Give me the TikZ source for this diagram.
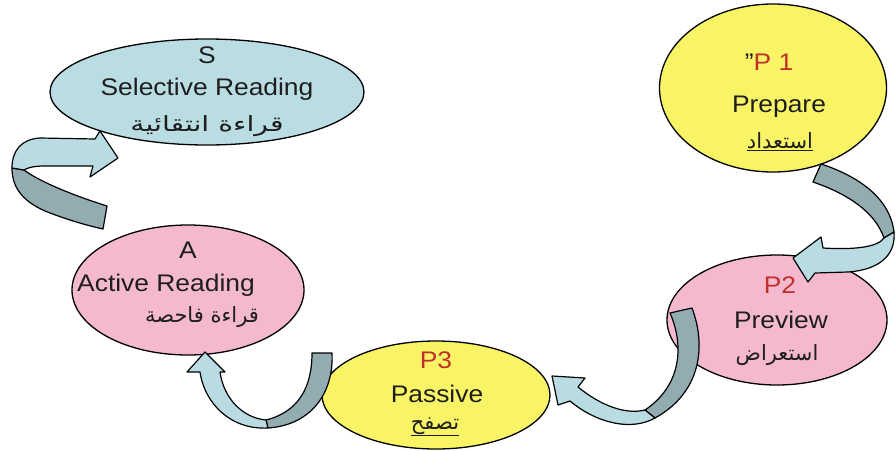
\documentclass[tikz,border=0pt]{standalone}
\usepackage{fontspec}
\setmainfont{Liberation Sans}[FakeStretch=1.1]
\newfontfamily\arabicfont[Script=Arabic]{DejaVu Sans}
\newfontfamily\arabicwide[Script=Arabic,FakeStretch=1.35]{DejaVu Sans}
\TeXXeTstate=1
\usetikzlibrary{shapes.geometric}
\definecolor{bluec}{HTML}{B9DDE3}
\definecolor{yellowc}{HTML}{F8F466}
\definecolor{pinkc}{HTML}{F5B9CF}
\definecolor{lightc}{HTML}{B8DCE2}
\definecolor{darkc}{HTML}{92ACB1}
\definecolor{txtc}{HTML}{1E1E1E}
\definecolor{redc}{HTML}{C0302A}
\begin{document}
\begin{tikzpicture}[x=1pt,y=-1pt,
  bubble/.style={ellipse, draw=black, line width=1.3pt, inner sep=0pt},
  txt/.style={font=\fontsize{24}{28}\selectfont, text=txtc, inner sep=0pt, anchor=base},
  lbl/.style={txt, text=redc},
  ar/.style={font=\arabicfont\fontsize{21}{24}\selectfont, text=txtc, inner sep=0pt, anchor=base},
  arw/.style={ar, font=\arabicwide\fontsize{21}{24}\selectfont},
  darkband/.style={draw=black, line width=1.2pt, line join=round, fill=darkc},
  lightband/.style={draw=black, line width=1.2pt, line join=round, fill=lightc}]
\useasboundingbox (0,0) rectangle (896,450);
\fill[white] (0,0) rectangle (896,450);

% ellipses
\node[bubble, fill=bluec, minimum width=314pt, minimum height=106pt] (S) at (207,92) {};
\node[bubble, fill=yellowc, minimum width=227pt, minimum height=168pt] (P1) at (773,88) {};
\node[bubble, fill=pinkc, minimum width=220pt, minimum height=130pt] (P2) at (777,320) {};
\node[bubble, fill=yellowc, minimum width=228pt, minimum height=108pt] (P3) at (436,395) {};
\node[bubble, fill=pinkc, minimum width=232pt, minimum height=130pt] (A) at (188,290) {};

% texts
\node[txt] (s1) at (207,63) {S};
\node[txt] (s2) at (207,95) {Selective Reading};
\node[arw] (s3) at (207,131) {\beginR قراءة انتقائية\endR};

\node[txt] (p1a) at (769,70) {\symbol{34}\textcolor{redc}{P 1}};
\node[txt] (p1b) at (779,112) {Prepare};
\node[ar] (p1c) at (780,148) {\underline{\beginR استعداد\endR}};

\node[lbl] (p2a) at (780,293) {P2};
\node[txt] (p2b) at (781,328) {Preview};
\node[ar] (p2c) at (777,360) {\beginR استعراض\endR};

\node[lbl] (p3a) at (436,368) {P3};
\node[txt] (p3b) at (437,402) {Passive};
\node[ar] (p3c) at (435,429) {\underline{\beginR تصفح\endR}};

\node[txt] (a1) at (188,258) {A};
\node[txt] (a2) at (166,291) {Active Reading};
\node[ar] (a3) at (202,322) {\beginR قراءة فاحصة\endR};

% arrow A -> S (left)
\draw[darkband] (107,206) .. controls (75,196) and (40,182) .. (24,170) -- (12,168)
   .. controls (12,185) and (20,200) .. (45,211) .. controls (65,219) and (85,225) .. (103,229) -- cycle;
\draw[lightband] (12,168) .. controls (12,150) and (22,139) .. (40,138) -- (95,139) -- (100,131)
   -- (118,158) -- (90,177) -- (93,166) -- (45,166) .. controls (33,166) and (27,168) .. (24,170) -- cycle;

% arrow P1 -> P2 (right)
\draw[darkband] (821,164) .. controls (858,176) and (890,198) .. (894,232) -- (884,238)
   .. controls (875,212) and (848,194) .. (813,182) -- cycle;
\draw[lightband] (884,238) -- (894,232) .. controls (896,256) and (878,270) .. (848,272)
   -- (815,273) -- (808,282) -- (793,258) -- (821,237) -- (823,248)
   .. controls (855,250) and (878,247) .. (884,238) -- cycle;

% arrow P2 -> P3
\draw[darkband] (670,313) -- (692,308) .. controls (706,345) and (702,392) .. (655,418)
   -- (645,410) .. controls (682,385) and (684,345) .. (670,313) -- cycle;
\draw[lightband] (645,410) -- (655,418) .. controls (630,432) and (595,422) .. (570,401)
   -- (558,405) -- (552,376) -- (585,378) -- (578,387)
   .. controls (600,405) and (625,415) .. (645,410) -- cycle;

% arrow P3 -> A
\draw[darkband] (312,353) -- (332,353) .. controls (334,392) and (312,425) .. (268,428)
   -- (266,420) .. controls (298,412) and (312,388) .. (312,353) -- cycle;
\draw[lightband] (266,420) -- (268,428) .. controls (232,430) and (205,405) .. (200,372)
   -- (187,372) -- (205,352) -- (225,372) -- (220,372)
   .. controls (224,400) and (244,418) .. (266,420) -- cycle;
\end{tikzpicture}
\end{document}
